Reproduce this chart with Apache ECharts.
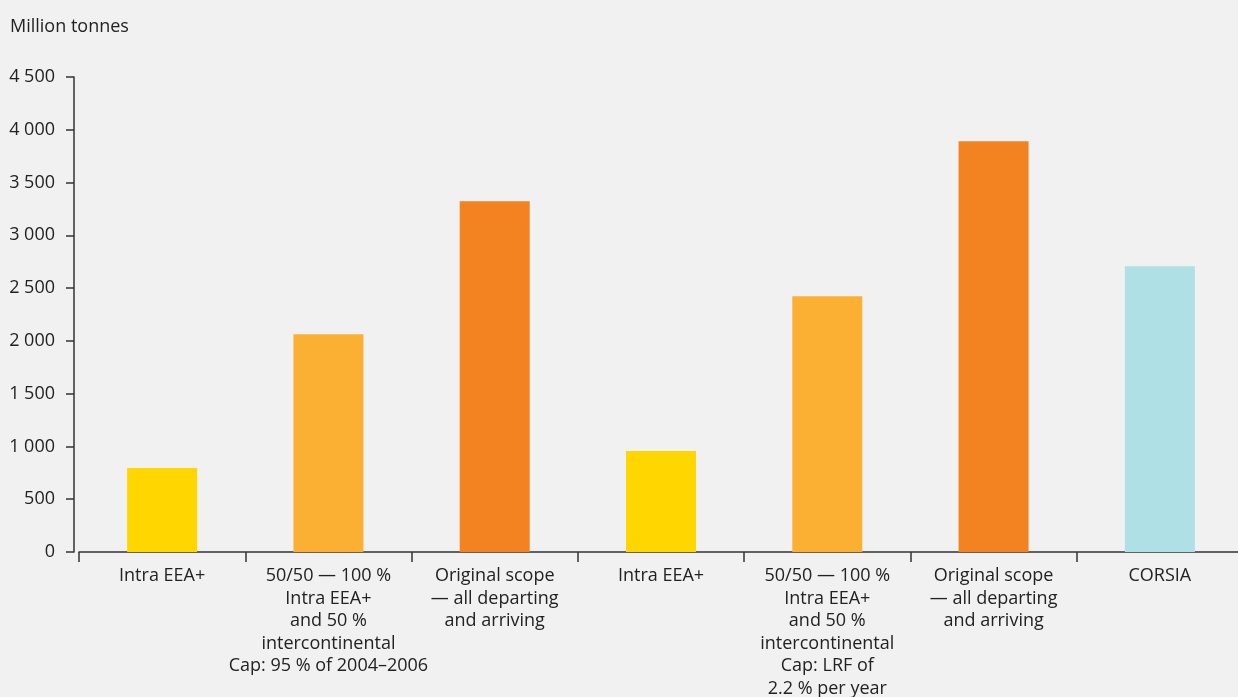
<!DOCTYPE html>
<html>
<head>
<meta charset="utf-8">
<script src="https://cdn.jsdelivr.net/npm/echarts@6/dist/echarts.min.js"></script>
<style>
html,body{margin:0;padding:0;background:#f1f1f1;}
#chart{width:1238px;height:697px;}
</style>
</head>
<body>
<div id="chart"></div>
<script>
const categories = [
  "Intra EEA+",
  "50/50 \u2014 100 %\nIntra EEA+\nand 50 %\nintercontinental\nCap: 95 % of 2004\u20132006",
  "Original scope\n\u2014 all departing\nand arriving",
  "Intra EEA+",
  "50/50 \u2014 100 %\nIntra EEA+\nand 50 %\nintercontinental\nCap: LRF of\n2.2 % per year",
  "Original scope\n\u2014 all departing\nand arriving",
  "CORSIA"
];
const values = [795, 2064, 3323, 956, 2424, 3891, 2708];
const barColors = ["#FFD600", "#FBB034", "#F38321", "#FFD600", "#FBB034", "#F38321", "#AEE0E6"];
const yTicks = [0, 500, 1000, 1500, 2000, 2500, 3000, 3500, 4000, 4500];

const fmt = v => {
  const s = String(v);
  return s.length > 3 ? s.slice(0, s.length - 3) + " " + s.slice(-3) : s;
};

const chart = echarts.init(document.getElementById('chart'), null, {renderer: 'canvas'});
const textColor = '#222222';
const axisColor = '#333333';
chart.setOption({
  backgroundColor: '#f1f1f1',
  animation: false,
  textStyle: {fontFamily: 'Open Sans'},
  title: {
    text: 'Million tonnes',
    left: 10, top: 18, padding: 0,
    textStyle: {fontFamily: 'Open Sans', fontSize: 18, fontWeight: 'normal', color: textColor}
  },
  grid: {left: 79, right: -5, top: 77, bottom: 145, containLabel: false, outerBoundsMode: 'none'},
  xAxis: {
    type: 'category',
    data: categories,
    axisLine: {show: true, lineStyle: {color: axisColor, width: 1.5}},
    axisTick: {show: true, length: 10, lineStyle: {color: axisColor, width: 1.5}},
    axisLabel: {
      interval: 0, margin: 13, color: textColor,
      fontFamily: 'Open Sans', fontSize: 18, lineHeight: 22.5, align: 'center'
    }
  },
  yAxis: {
    type: 'value',
    min: yTicks[0], max: yTicks[yTicks.length - 1], interval: 500,
    offset: 5,
    splitLine: {show: false},
    axisLine: {show: true, lineStyle: {color: axisColor, width: 1.5}},
    axisTick: {show: true, length: 8, lineStyle: {color: axisColor, width: 1.5}},
    axisLabel: {
      margin: 19, color: textColor, fontFamily: 'Open Sans', fontSize: 18,
      formatter: v => fmt(v)
    }
  },
  series: [{
    type: 'bar',
    barWidth: 70,
    data: values.map((v, i) => ({value: v, itemStyle: {color: barColors[i]}}))
  }]
});
</script>
</body>
</html>
